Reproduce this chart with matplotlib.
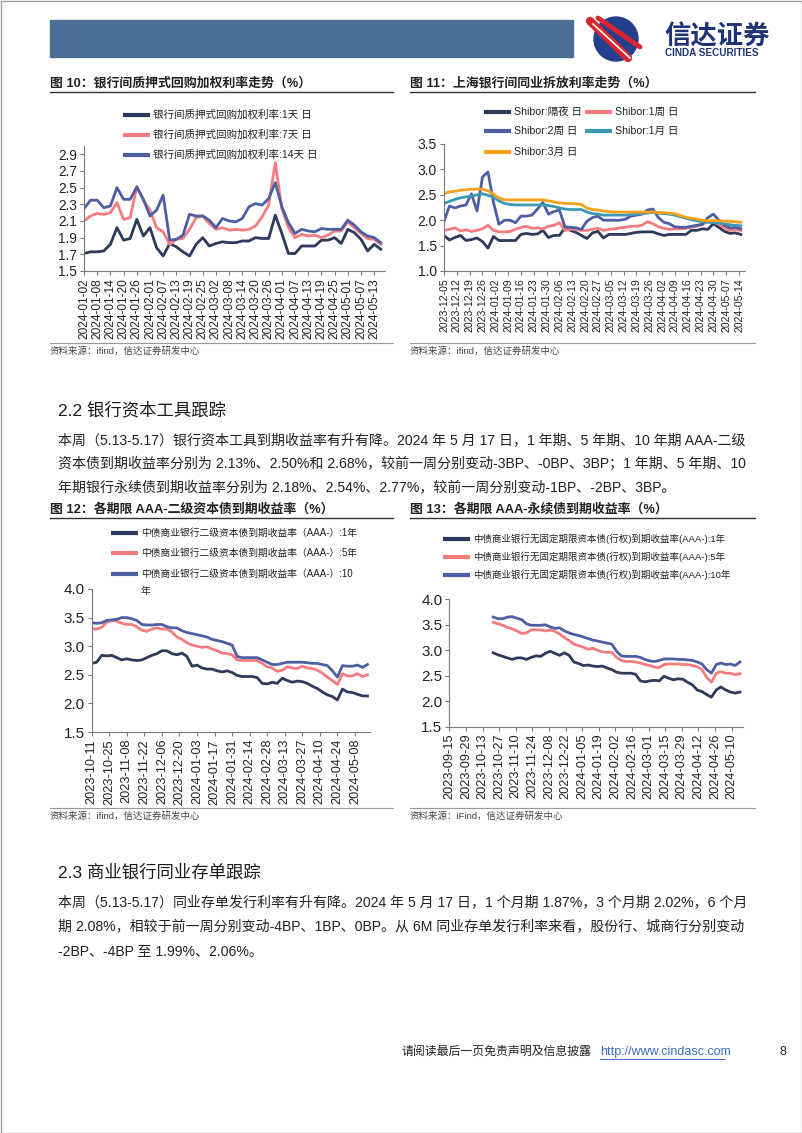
import matplotlib
matplotlib.use('Agg')
import matplotlib.pyplot as plt
import matplotlib.dates as mdates
from matplotlib.patches import Rectangle, Circle
import pandas as pd

plt.rcParams['font.family'] = ['Liberation Sans', 'Noto Sans CJK SC']

# --------------------------------------------------
# Fig 10: interbank pledged repo weighted rates (3-day samples)
# --------------------------------------------------
repo_dates = pd.date_range('2024-01-02', periods=46, freq='3D')
repo_1d = [1.71, 1.73, 1.73, 1.74, 1.82, 2.02, 1.87, 1.89, 2.12, 1.92,
           2.02, 1.78, 1.68, 1.83, 1.79, 1.73, 1.68, 1.82, 1.90, 1.80,
           1.83, 1.85, 1.84, 1.84, 1.86, 1.86, 1.90, 1.89, 1.89, 2.17,
           1.95, 1.71, 1.71, 1.80, 1.80, 1.80, 1.87, 1.87, 1.90, 1.83,
           2.00, 1.96, 1.88, 1.74, 1.82, 1.76]
repo_7d = [2.10, 2.16, 2.19, 2.18, 2.20, 2.32, 2.12, 2.14, 2.51, 2.35,
           2.23, 2.02, 1.97, 1.82, 1.88, 1.89, 2.00, 2.14, 2.16, 2.07,
           2.00, 2.02, 1.99, 2.00, 1.99, 2.00, 2.04, 2.15, 2.29, 2.80,
           2.25, 2.02, 1.90, 1.94, 1.92, 1.93, 1.90, 1.93, 1.98, 1.98,
           2.09, 2.02, 1.95, 1.89, 1.88, 1.82]
repo_14d = [2.25, 2.35, 2.35, 2.26, 2.28, 2.50, 2.36, 2.36, 2.51, 2.36,
            2.16, 2.23, 2.41, 1.87, 1.88, 1.93, 2.18, 2.16, 2.16, 2.11,
            2.02, 2.13, 2.10, 2.09, 2.13, 2.27, 2.31, 2.29, 2.37, 2.56,
            2.27, 2.08, 1.95, 2.00, 1.98, 1.97, 2.01, 2.00, 2.00, 2.00,
            2.11, 2.05, 1.97, 1.92, 1.90, 1.84]
repo_labels = ['银行间质押式回购加权利率:1天 日', '银行间质押式回购加权利率:7天 日',
               '银行间质押式回购加权利率:14天 日']

# --------------------------------------------------
# Fig 11: Shibor (3-day samples)
# --------------------------------------------------
shibor_dates = pd.date_range('2023-12-05', periods=55, freq='3D')
shibor_on = [1.70, 1.61, 1.66, 1.70, 1.60, 1.62, 1.65, 1.58, 1.45, 1.68,
             1.60, 1.60, 1.60, 1.60, 1.72, 1.74, 1.72, 1.73, 1.80, 1.66,
             1.70, 1.70, 1.85, 1.80, 1.76, 1.70, 1.64, 1.75, 1.78, 1.65,
             1.72, 1.72, 1.72, 1.72, 1.74, 1.76, 1.77, 1.77, 1.77, 1.73,
             1.70, 1.72, 1.72, 1.72, 1.72, 1.80, 1.80, 1.83, 1.82, 1.93,
             1.86, 1.78, 1.74, 1.75, 1.72]
shibor_1w = [1.80, 1.82, 1.85, 1.79, 1.81, 1.78, 1.80, 1.83, 1.90, 1.80,
             1.77, 1.77, 1.78, 1.82, 1.86, 1.88, 1.84, 1.85, 1.83, 1.88,
             1.90, 1.95, 1.80, 1.82, 1.82, 1.80, 1.80, 1.82, 1.84, 1.80,
             1.82, 1.83, 1.85, 1.86, 1.88, 1.88, 1.90, 1.97, 1.93, 1.87,
             1.84, 1.82, 1.83, 1.83, 1.84, 1.86, 1.88, 1.92, 1.97, 1.97,
             1.92, 1.85, 1.80, 1.82, 1.80]
shibor_2w = [1.98, 2.28, 2.24, 2.28, 2.30, 2.52, 2.18, 2.85, 2.95, 2.35,
             1.92, 2.00, 2.00, 1.95, 2.08, 2.08, 2.10, 2.22, 2.35, 2.12,
             2.17, 2.20, 1.87, 1.86, 1.85, 1.82, 1.98, 2.05, 2.08, 2.00,
             2.00, 2.00, 2.00, 2.02, 2.08, 2.10, 2.12, 2.20, 2.22, 2.05,
             1.96, 1.93, 1.87, 1.86, 1.86, 1.88, 1.90, 1.92, 2.05, 2.12,
             2.00, 1.90, 1.85, 1.86, 1.83]
shibor_1m = [2.33, 2.37, 2.41, 2.44, 2.46, 2.47, 2.50, 2.52, 2.49, 2.45,
             2.38, 2.33, 2.31, 2.30, 2.30, 2.30, 2.30, 2.30, 2.30, 2.29,
             2.27, 2.24, 2.22, 2.21, 2.21, 2.21, 2.16, 2.13, 2.12, 2.10,
             2.10, 2.10, 2.10, 2.10, 2.11, 2.12, 2.13, 2.14, 2.15, 2.14,
             2.13, 2.12, 2.10, 2.07, 2.04, 2.01, 1.99, 1.97, 1.96, 1.95,
             1.94, 1.93, 1.91, 1.90, 1.89]
shibor_3m = [2.52, 2.56, 2.57, 2.59, 2.60, 2.61, 2.61, 2.61, 2.58, 2.51,
             2.44, 2.40, 2.40, 2.40, 2.40, 2.40, 2.40, 2.40, 2.40, 2.38,
             2.36, 2.34, 2.33, 2.33, 2.32, 2.31, 2.24, 2.21, 2.20, 2.18,
             2.17, 2.16, 2.16, 2.16, 2.16, 2.16, 2.16, 2.16, 2.16, 2.15,
             2.15, 2.14, 2.13, 2.09, 2.06, 2.04, 2.02, 2.00, 1.99, 1.99,
             1.99, 1.98, 1.98, 1.97, 1.96]

# --------------------------------------------------
# Fig 12: AAA- tier-2 capital bond yields (4-day samples)
# --------------------------------------------------
cap_dates = pd.date_range('2023-10-11', periods=56, freq='4D')
cap_1y = [2.70, 2.72, 2.84, 2.83, 2.84, 2.80, 2.76, 2.78, 2.76, 2.75,
          2.76, 2.80, 2.84, 2.87, 2.92, 2.92, 2.87, 2.85, 2.88, 2.82,
          2.65, 2.67, 2.62, 2.60, 2.60, 2.57, 2.55, 2.57, 2.54, 2.49,
          2.47, 2.47, 2.47, 2.45, 2.35, 2.34, 2.37, 2.35, 2.44, 2.40,
          2.37, 2.39, 2.38, 2.35, 2.30, 2.26, 2.20, 2.15, 2.12, 2.06,
          2.25, 2.20, 2.19, 2.16, 2.13, 2.13]
cap_5y = [3.30, 3.30, 3.33, 3.42, 3.45, 3.44, 3.40, 3.38, 3.38, 3.34,
          3.28, 3.26, 3.30, 3.32, 3.30, 3.30, 3.25, 3.16, 3.12, 3.06,
          3.02, 3.00, 2.98, 2.99, 2.95, 2.92, 2.88, 2.87, 2.85, 2.76,
          2.75, 2.75, 2.75, 2.75, 2.70, 2.64, 2.62, 2.56, 2.58, 2.64,
          2.62, 2.61, 2.65, 2.62, 2.61, 2.58, 2.53, 2.46, 2.40, 2.33,
          2.52, 2.48, 2.48, 2.52, 2.47, 2.50]
cap_10y = [3.41, 3.40, 3.41, 3.45, 3.46, 3.47, 3.50, 3.50, 3.48, 3.45,
           3.38, 3.37, 3.37, 3.38, 3.38, 3.34, 3.32, 3.32, 3.27, 3.24,
           3.22, 3.20, 3.18, 3.16, 3.12, 3.10, 3.08, 3.05, 3.02, 2.82,
           2.80, 2.80, 2.80, 2.80, 2.76, 2.72, 2.68, 2.68, 2.70, 2.72,
           2.72, 2.72, 2.72, 2.71, 2.70, 2.70, 2.68, 2.66, 2.57, 2.46,
           2.66, 2.65, 2.65, 2.67, 2.63, 2.68]

# --------------------------------------------------
# Fig 13: AAA- perpetual bond yields (4-day samples)
# --------------------------------------------------
perp_dates = pd.date_range('2023-10-22', periods=53, freq='4D')
perp_1y = [2.95, 2.91, 2.88, 2.85, 2.82, 2.85, 2.85, 2.82, 2.86, 2.89,
           2.88, 2.94, 2.98, 2.94, 2.90, 2.95, 2.90, 2.77, 2.74, 2.70,
           2.71, 2.69, 2.68, 2.69, 2.65, 2.62, 2.57, 2.55, 2.55, 2.55,
           2.53, 2.40, 2.38, 2.40, 2.41, 2.40, 2.49, 2.45, 2.42, 2.44,
           2.43, 2.37, 2.32, 2.22, 2.19, 2.13, 2.08, 2.22, 2.28, 2.22,
           2.18, 2.16, 2.18]
perp_5y = [3.55, 3.52, 3.49, 3.45, 3.42, 3.38, 3.33, 3.34, 3.40, 3.40,
           3.40, 3.38, 3.40, 3.37, 3.32, 3.25, 3.19, 3.12, 3.09, 3.06,
           3.02, 3.04, 3.00, 2.97, 2.96, 2.96, 2.86, 2.80, 2.78, 2.78,
           2.77, 2.75, 2.72, 2.70, 2.67, 2.66, 2.72, 2.73, 2.73, 2.73,
           2.72, 2.72, 2.70, 2.68, 2.62, 2.47, 2.37, 2.55, 2.58, 2.55,
           2.55, 2.52, 2.54]
perp_10y = [3.65, 3.62, 3.62, 3.65, 3.66, 3.63, 3.60, 3.52, 3.49, 3.49,
            3.49, 3.50, 3.46, 3.43, 3.44, 3.38, 3.34, 3.31, 3.29, 3.26,
            3.23, 3.20, 3.18, 3.16, 3.14, 3.12, 2.98, 2.89, 2.88, 2.88,
            2.88, 2.86, 2.82, 2.79, 2.78, 2.80, 2.83, 2.83, 2.83, 2.82,
            2.82, 2.81, 2.80, 2.77, 2.73, 2.62, 2.55, 2.72, 2.75, 2.72,
            2.73, 2.70, 2.77]

NAVY = '#2e3a5c'
PINK = '#f47c7f'
BLUE = '#4d5ea3'
TEAL = '#3a9ab4'
ORANGE = '#f4a21c'

# --------------------------------------------------
# Page canvas in pixel coordinates
# --------------------------------------------------
W, H = 802, 1133
fig = plt.figure(figsize=(W / 100, H / 100), dpi=100)
page = fig.add_axes([0, 0, 1, 1], zorder=0)
page.set_xlim(0, W)
page.set_ylim(H, 0)
page.axis('off')

page.add_patch(Rectangle((0.5, 0.5), W - 1, H - 1, fill=False, ec='#a0a0a0', lw=1))

# header band and logo
page.add_patch(Rectangle((50, 20), 523, 37, color='#4b6e97'))
page.add_patch(Circle((616, 39), 22, color='#24408c'))
page.plot([590, 628], [21, 58], color='#d9252f', lw=6, solid_capstyle='round')
page.plot([593, 630], [24, 58], color='white', lw=1.2)
page.plot([598, 640], [18, 47], color='#d9252f', lw=3.5, solid_capstyle='round')
page.text(664, 37, '信达证券', fontsize=19, fontweight='bold', color='#1e3275',
          va='center', ha='left')
page.text(665, 52.5, 'CINDA SECURITIES', fontsize=7.2, fontweight='bold',
          color='#1e3275', va='center', ha='left')

TXT = '#222222'


def chart_title(x0, x1, y, text):
    page.text(x0, y, text, fontsize=9.3, fontweight='bold', color='#222',
              va='center', ha='left')
    page.plot([x0, x1], [y + 9, y + 9], color='#333', lw=1)


def source(x0, x1, y, text):
    page.plot([x0, x1], [y - 7, y - 7], color='#999', lw=0.8)
    page.text(x0, y + 1, text, fontsize=6.8, color='#444', va='center', ha='left')


def legend_item(x0, y, color, label, fs, hl=27):
    page.plot([x0, x0 + hl], [y, y], color=color, lw=3, solid_capstyle='butt')
    page.text(x0 + hl + 3, y, label, fontsize=fs, color=TXT, va='center', ha='left')


def chart_axes(left, top, right, bottom):
    ax = fig.add_axes([left / W, 1 - bottom / H, (right - left) / W, (bottom - top) / H],
                      zorder=2)
    ax.patch.set_visible(False)
    for s in ['top', 'right']:
        ax.spines[s].set_visible(False)
    for s in ['left', 'bottom']:
        ax.spines[s].set_color('#7a7a7a')
        ax.spines[s].set_linewidth(0.8)
    ax.tick_params(direction='out', length=3, width=0.8, color='#7a7a7a',
                   labelcolor=TXT, pad=2)
    return ax


def date_ticks(ax, ticks, fs):
    ax.set_xticks(mdates.date2num(ticks))
    ax.set_xticklabels([t.strftime('%Y-%m-%d') for t in ticks], rotation=90, fontsize=fs)


def value_ticks(ax, ticks, fs):
    ax.set_yticks(ticks)
    ax.set_yticklabels([f'{t:.1f}' for t in ticks], fontsize=fs)


LW = 2.0

# --------------------------------------------------
# Fig 10
# --------------------------------------------------
chart_title(50, 393, 83, '图 10：银行间质押式回购加权利率走势（%）')
ax1 = chart_axes(84, 146, 385.2, 271)
for vals, c in zip([repo_1d, repo_7d, repo_14d], [NAVY, PINK, BLUE]):
    ax1.plot(repo_dates, vals, color=c, lw=LW, solid_joinstyle='round')
ax1.set_xlim(pd.Timestamp('2024-01-02'), pd.Timestamp('2024-05-18'))
ax1.set_ylim(1.5, 3.0)
value_ticks(ax1, [1.5, 1.7, 1.9, 2.1, 2.3, 2.5, 2.7, 2.9], 9.8)
date_ticks(ax1, pd.date_range('2024-01-02', '2024-05-13', freq='6D'), 8.6)
for y, c, lab in zip([115, 135, 155], [NAVY, PINK, BLUE], repo_labels):
    legend_item(123, y, c, lab, 7.6)
source(50, 393, 350, '资料来源：ifind，信达证券研发中心')

# --------------------------------------------------
# Fig 11
# --------------------------------------------------
chart_title(410, 755, 83, '图 11：上海银行间同业拆放利率走势（%）')
ax2 = chart_axes(444, 144, 744.5, 271)
for vals, c in zip([shibor_on, shibor_1w, shibor_2w, shibor_1m, shibor_3m],
                   [NAVY, PINK, BLUE, TEAL, ORANGE]):
    ax2.plot(shibor_dates, vals, color=c, lw=LW, solid_joinstyle='round')
ax2.set_xlim(pd.Timestamp('2023-12-05'), pd.Timestamp('2024-05-17'))
ax2.set_ylim(1.0, 3.5)
value_ticks(ax2, [1.0, 1.5, 2.0, 2.5, 3.0, 3.5], 10)
date_ticks(ax2, pd.date_range('2023-12-05', '2024-05-14', freq='7D'), 7.6)
legend_item(484, 112, NAVY, 'Shibor:隔夜 日', 7.6)
legend_item(585, 112, PINK, 'Shibor:1周 日', 7.6)
legend_item(484, 131, BLUE, 'Shibor:2周 日', 7.6)
legend_item(585, 131, TEAL, 'Shibor:1月 日', 7.6)
legend_item(484, 152, ORANGE, 'Shibor:3月 日', 7.6)
source(410, 755, 350, '资料来源：ifind，信达证券研发中心')

# --------------------------------------------------
# Section 2.2 text
# --------------------------------------------------
page.text(58, 410, '2.2 银行资本工具跟踪', fontsize=12.5, color='#1a1a1a',
          va='center', ha='left')
para22 = ['本周（5.13-5.17）银行资本工具到期收益率有升有降。2024 年 5 月 17 日，1 年期、5 年期、10 年期 AAA-二级',
          '资本债到期收益率分别为 2.13%、2.50%和 2.68%，较前一周分别变动-3BP、-0BP、3BP；1 年期、5 年期、10',
          '年期银行永续债到期收益率分别为 2.18%、2.54%、2.77%，较前一周分别变动-1BP、-2BP、3BP。']
for i, line in enumerate(para22):
    page.text(58, 440 + 24 * i, line, fontsize=10.05, color=TXT, va='center', ha='left')

# --------------------------------------------------
# Fig 12
# --------------------------------------------------
chart_title(50, 393, 509, '图 12：各期限 AAA-二级资本债到期收益率（%）')
ax3 = chart_axes(91.7, 589, 370, 732)
for vals, c in zip([cap_1y, cap_5y, cap_10y], [NAVY, PINK, BLUE]):
    ax3.plot(cap_dates, vals, color=c, lw=LW, solid_joinstyle='round')
ax3.set_xlim(pd.Timestamp('2023-10-11'), pd.Timestamp('2024-05-20'))
ax3.set_ylim(1.5, 4.0)
value_ticks(ax3, [1.5, 2.0, 2.5, 3.0, 3.5, 4.0], 11)
date_ticks(ax3, pd.date_range('2023-10-11', '2024-05-08', freq='14D'), 9.2)
legend_item(111, 533, NAVY, '中债商业银行二级资本债到期收益率（AAA-）:1年', 7)
legend_item(111, 553, PINK, '中债商业银行二级资本债到期收益率（AAA-）:5年', 7)
legend_item(111, 574, BLUE, '中债商业银行二级资本债到期收益率（AAA-）:10', 7)
page.text(141, 591, '年', fontsize=7, color=TXT, va='center', ha='left')
source(50, 393, 815, '资料来源：ifind，信达证券研发中心')

# --------------------------------------------------
# Fig 13
# --------------------------------------------------
chart_title(410, 755, 509, '图 13：各期限 AAA-永续债到期收益率（%）')
ax4 = chart_axes(449.3, 599.3, 743, 726.7)
for vals, c in zip([perp_1y, perp_5y, perp_10y], [NAVY, PINK, BLUE]):
    ax4.plot(perp_dates, vals, color=c, lw=LW, solid_joinstyle='round')
ax4.set_xlim(pd.Timestamp('2023-09-15'), pd.Timestamp('2024-05-19 14:00'))
ax4.set_ylim(1.5, 4.0)
value_ticks(ax4, [1.5, 2.0, 2.5, 3.0, 3.5, 4.0], 11)
date_ticks(ax4, pd.date_range('2023-09-15', '2024-05-10', freq='14D'), 9.2)
legend_item(443, 539, NAVY, '中债商业银行无固定期限资本债(行权)到期收益率(AAA-):1年', 6.8)
legend_item(443, 557, PINK, '中债商业银行无固定期限资本债(行权)到期收益率(AAA-):5年', 6.8)
legend_item(443, 575, BLUE, '中债商业银行无固定期限资本债(行权)到期收益率(AAA-):10年', 6.8)
source(410, 755, 815, '资料来源：iFind，信达证券研发中心')

# --------------------------------------------------
# Section 2.3 text
# --------------------------------------------------
page.text(58, 872, '2.3 商业银行同业存单跟踪', fontsize=12.5, color='#1a1a1a',
          va='center', ha='left')
para23 = ['本周（5.13-5.17）同业存单发行利率有升有降。2024 年 5 月 17 日，1 个月期 1.87%，3 个月期 2.02%，6 个月',
          '期 2.08%，相较于前一周分别变动-4BP、1BP、0BP。从 6M 同业存单发行利率来看，股份行、城商行分别变动',
          '-2BP、-4BP 至 1.99%、2.06%。']
for i, line in enumerate(para23):
    page.text(58, 903 + 24.5 * i, line, fontsize=10.05, color=TXT, va='center', ha='left')

# --------------------------------------------------
# Footer
# --------------------------------------------------
page.text(402, 1052, '请阅读最后一页免责声明及信息披露', fontsize=8.6, color='#222',
          va='center', ha='left')
page.text(600, 1052, 'http://www.cindasc.com', fontsize=9, color='#3a6cc4',
          va='center', ha='left')
page.plot([600, 725], [1059, 1059], color='#3a6cc4', lw=0.7)
page.text(779, 1052, '8', fontsize=9, color='#222', va='center', ha='left')

fig.savefig('out.png', dpi=100)
